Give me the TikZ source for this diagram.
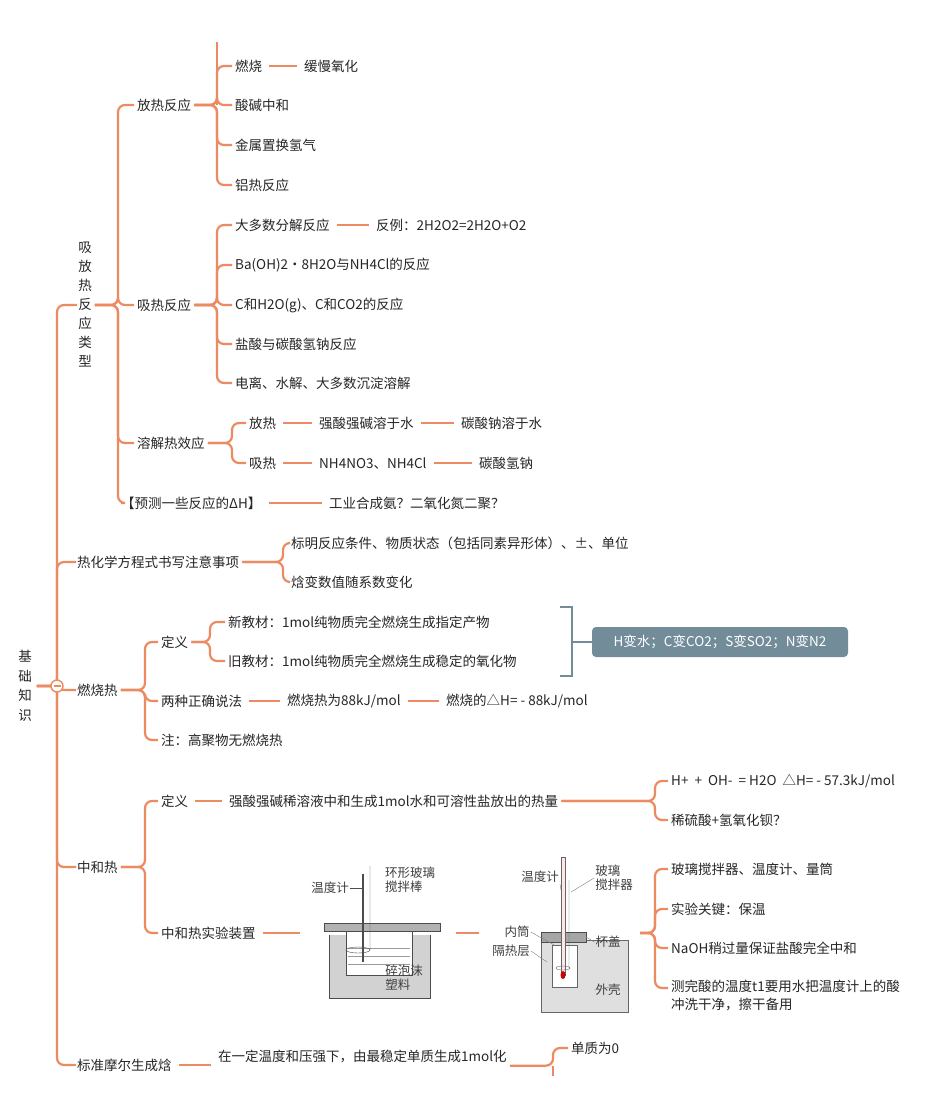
\documentclass[tikz,border=0pt]{standalone}
\usepackage{fontspec}
\setmainfont{Noto Sans CJK SC}
\begin{document}
\begin{tikzpicture}[x=1pt,y=-1pt,
  t/.style={anchor=west,inner sep=3pt,font=\fontsize{13.5}{18}\selectfont,text=black!85},
  br/.style={draw=oc,line width=2.2pt,rounded corners=7pt},
  ln/.style={draw=oc,line width=2.2pt,shorten <=4pt,shorten >=4pt},
  lab/.style={font=\fontsize{12.5}{14}\selectfont,text=black!75,inner sep=1pt,align=left}]
\definecolor{oc}{HTML}{EC8A62}
\definecolor{gb}{HTML}{738C99}
\useasboundingbox (0,0) rectangle (950,1117);
\fill[white] (0,0) rectangle (950,1117);
% root
\node[t,align=center,anchor=center,font=\fontsize{13.5}{19.5}\selectfont] (root) at (25,686) {基\\础\\知\\识};
\node[t,align=center,anchor=center,font=\fontsize{13.5}{19}\selectfont] (xf) at (85,305) {吸\\放\\热\\反\\应\\类\\型};
\node[t] (rh) at (74,562) {热化学方程式书写注意事项};
\node[t] (rs) at (74,690) {燃烧热};
\node[t] (zh) at (74,867) {中和热};
\node[t] (bz) at (74,1065) {标准摩尔生成焓};
\coordinate (s0) at (57,0);
\foreach \c in {xf,rh,rs,zh,bz} \draw[br] ([xshift=2pt]root.east) -- (s0 |- root.east) |- ([xshift=2pt]\c.west);
% level 2 under xf
\node[t] (fr) at (134,105) {放热反应};
\node[t] (xr) at (134,305) {吸热反应};
\node[t] (rj) at (134,443) {溶解热效应};
\node[t] (yc) at (118,503) {【预测一些反应的ΔH】};
\coordinate (s1) at (118,0);
\foreach \c in {fr,xr,rj} \draw[br] (xf.east) -- (s1 |- xf.east) |- (\c.west);
\draw[br] (xf.east) -- (s1 |- xf.east) -- (s1 |- yc.west) -- ++(3,0);
\node[t] (gy) at (326,503) {工业合成氨？二氧化氮二聚？};
\draw[ln] (yc.east) -- (gy.west);
% 放热
\node[t] (rs1) at (232,66) {燃烧};
\node[t] (hm) at (301,66) {缓慢氧化};
\node[t] (sj) at (232,105) {酸碱中和};
\node[t] (js) at (232,145) {金属置换氢气};
\node[t] (lr) at (232,185) {铝热反应};
\coordinate (s2) at (217,0);
\draw[br] (s2 |- 0,42) -- (s2 |- fr.east);
\foreach \c in {rs1,sj,js,lr} \draw[br] (fr.east) -- (s2 |- fr.east) |- (\c.west);
\draw[ln] (rs1.east) -- (hm.west);
% 吸热
\node[t] (dd) at (232,225) {大多数分解反应};
\node[t] (fl) at (373,225) {反例：2H2O2=2H2O+O2};
\node[t] (ba) at (232,265) {Ba(OH)2·8H2O与NH4Cl的反应};
\node[t] (ch) at (232,305) {C和H2O(g)、C和CO2的反应};
\node[t] (ys) at (232,344) {盐酸与碳酸氢钠反应};
\node[t] (dl) at (232,383) {电离、水解、大多数沉淀溶解};
\foreach \c in {dd,ba,ch,ys,dl} \draw[br] (xr.east) -- (s2 |- xr.east) |- (\c.west);
\draw[ln] (dd.east) -- (fl.west);
% 溶解
\node[t] (f2) at (246,423) {放热};
\node[t] (q1) at (316,423) {强酸强碱溶于水};
\node[t] (tn) at (458,423) {碳酸钠溶于水};
\node[t] (x2) at (246,463) {吸热};
\node[t] (nh) at (316,463) {NH4NO3、NH4Cl};
\node[t] (tq) at (476,463) {碳酸氢钠};
\coordinate (s3) at (232,0);
\foreach \c in {f2,x2} \draw[br] (rj.east) -- (s3 |- rj.east) |- (\c.west);
\draw[ln] (f2.east) -- (q1.west); \draw[ln] (q1.east) -- (tn.west);
\draw[ln] (x2.east) -- (nh.west); \draw[ln] (nh.east) -- (tq.west);
% 热化学
\node[t] (bm) at (288,543) {标明反应条件、物质状态（包括同素异形体）、±、单位};
\node[t] (hb) at (288,582) {焓变数值随系数变化};
\coordinate (s4) at (283,0);
\foreach \c in {bm,hb} \draw[br] (rh.east) -- (s4 |- rh.east) |- (\c.west);
% 燃烧热
\node[t] (dy) at (158,642) {定义};
\node[t] (lz) at (158,701) {两种正确说法};
\node[t] (zh2) at (158,740) {注：高聚物无燃烧热};
\coordinate (s5) at (145,0);
\foreach \c in {dy,lz,zh2} \draw[br] (rs.east) -- (s5 |- rs.east) |- (\c.west);
\node[t] (xj) at (225,622) {新教材：1mol纯物质完全燃烧生成指定产物};
\node[t] (jj) at (225,661) {旧教材：1mol纯物质完全燃烧生成稳定的氧化物};
\coordinate (s6) at (210,0);
\foreach \c in {xj,jj} \draw[br] (dy.east) -- (s6 |- dy.east) |- (\c.west);
\node[t] (r88) at (284,701) {燃烧热为88kJ/mol};
\node[t] (h88) at (443,701) {燃烧的△H= - 88kJ/mol};
\draw[ln] (lz.east) -- (r88.west); \draw[ln] (r88.east) -- (h88.west);
\draw[gb,line width=1.6pt] (560,607) -- (572,607) -- (572,676) -- (560,676);
\node[t,anchor=center,fill=gb,text=white,rounded corners=4pt,minimum width=256pt,minimum height=30pt] (box) at (720,642) {H变水；C变CO2；S变SO2；N变N2};
\draw[gb,line width=1.6pt] (572,642) -- (box.west);
% 中和热
\node[t] (d2) at (158,801) {定义};
\node[t] (sy) at (158,933) {中和热实验装置};
\coordinate (s7) at (145,0);
\foreach \c in {d2,sy} \draw[br] (zh.east) -- (s7 |- zh.east) |- (\c.west);
\node[t] (qs) at (226,801) {强酸强碱稀溶液中和生成1mol水和可溶性盐放出的热量};
\draw[ln] (d2.east) -- (qs.west);
\node[t] (hp) at (668,781) {H+ \ + \ OH- \ = H2O \ △H= - 57.3kJ/mol};
\node[t] (xl) at (668,820) {稀硫酸+氢氧化钡？};
\coordinate (s8) at (655,0);
\foreach \c in {hp,xl} \draw[br] (qs.east) -- (s8 |- qs.east) |- (\c.west);
% apparatus 1
\coordinate (im1) at (300,933);
\draw[ln,shorten >=0pt] (sy.east) -- (im1);
\fill[gray!35] (329,935) rectangle (430,998);
\draw[black!70] (329,935) -- (329,998) -- (430,998) -- (430,935);
\fill[white] (346,932) rectangle (412,975); \draw[black!70] (346,932) -- (346,975) -- (412,975) -- (412,932);
\foreach \y in {948,956,964} \draw[black!40] (348,\y) -- (410,\y);
\fill[gray!60] (324,923) rectangle (440,931); \draw[black!70] (324,923) rectangle (440,931);
\draw[black!70,line width=1.6pt] (363,874) -- (363,962);
\draw[black!70] (370,866) -- (370,950) (358,950) ellipse (12 and 3);
\node[lab] (wd1) at (330,888) {温度计};
\draw[black!70] (wd1.east) -- (362,888);
\node[lab] (hx) at (410,880) {环形玻璃\\搅拌棒};
\node[lab] (sp) at (404,978) {碎泡沫\\塑料};
% link
\draw[ln] (452,933) -- (483,933);
% apparatus 2
\fill[gray!25] (541,940) rectangle (628,1012); \draw[black!60] (541,940) rectangle (628,1012);
\fill[white] (552,945) rectangle (577,987); \draw[black!60] (552,945) rectangle (577,987);
\fill[gray!70] (541,932) rectangle (586,942); \draw[black!70] (541,932) rectangle (586,942);
\draw[black!60,fill=red!10] (561,857) rectangle (565,975);
\fill[red!80!black] (563,975) ellipse (2.5 and 4);
\draw[black!60] (569,880) -- (569,968) (563,968) ellipse (7 and 2);
\node[lab] (wd2) at (540,877) {温度计};
\node[lab] (bl) at (614,878) {玻璃\\搅拌器};
\node[lab] (nt) at (517,932) {内筒};
\node[lab] (gr) at (511,951) {隔热层};
\node[lab] (bg) at (608,942) {杯盖};
\node[lab] (wk) at (608,990) {外壳};
\draw[black!50] (wd2.south east) -- (561,890);
\draw[black!50] (bl.west) -- (571,892);
\draw[black!50] (nt.east) -- (556,946);
\draw[black!50] (gr.east) -- (547,962);
\draw[black!50] (bg.west) -- (586,937);
\draw[black!50] (wk.west) -- (620,985);
\coordinate (im2e) at (640,933);
\node[t] (b1) at (668,869) {玻璃搅拌器、温度计、量筒};
\node[t] (b2) at (668,909) {实验关键：保温};
\node[t] (b3) at (668,948) {NaOH稍过量保证盐酸完全中和};
\node[t,align=left,anchor=north west] (b4) at (668,977) {测完酸的温度t1要用水把温度计上的酸\\冲洗干净，擦干备用};
\coordinate (b4c) at (668,988);
\coordinate (s9) at (655,0);
\foreach \c in {b1,b2,b3} \draw[br] (im2e) -- (s9 |- im2e) |- (\c.west);
\draw[br] (im2e) -- (s9 |- im2e) |- (b4c);
% 标准
\node[t] (zd) at (215,1056) {在一定温度和压强下，由最稳定单质生成1mol化};
\draw[ln] (bz.east) -- (zd.south west |- bz.east);
\node[t] (dz) at (568,1048) {单质为0};
\coordinate (s10) at (553,0);
\draw[br] (zd.south east) -- (s10 |- zd.south east) |- (dz.west);
\draw[br] (s10 |- zd.south east) -- (s10 |- 0,1076);
% root circle
\draw[oc,line width=1.4pt,fill=white] (57,686) circle (6);
\draw[oc,line width=1.2pt] (53.5,686) -- (60.5,686);
\end{tikzpicture}
\end{document}
